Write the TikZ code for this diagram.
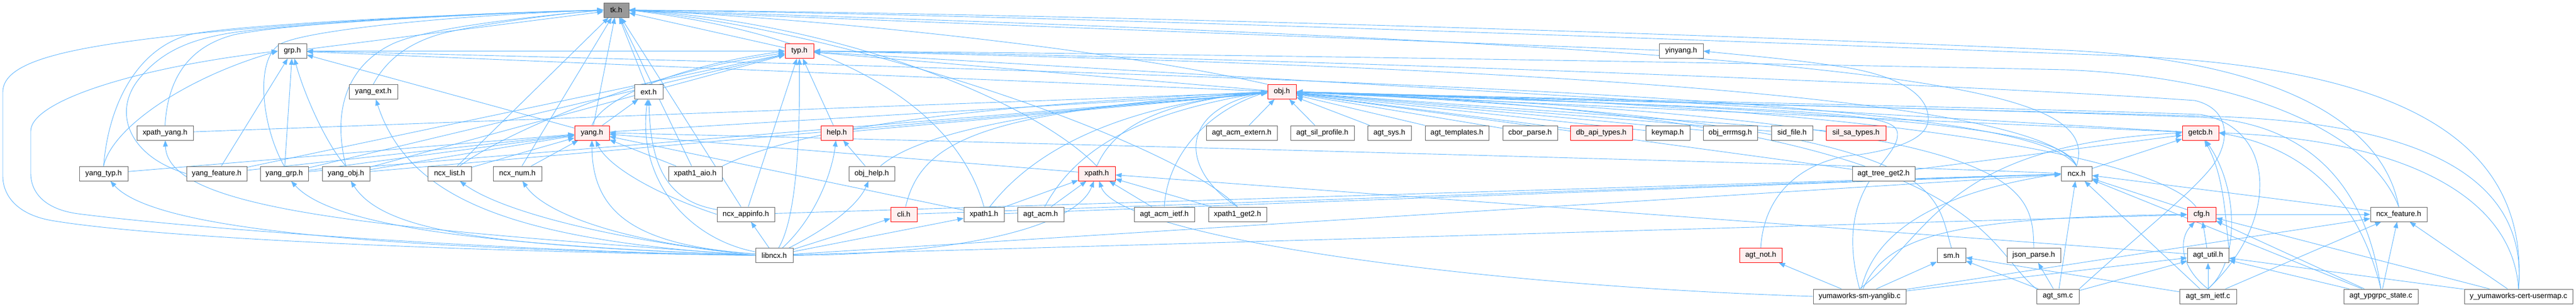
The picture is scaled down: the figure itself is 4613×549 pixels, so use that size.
\documentclass[tikz,border=0pt]{standalone}
\usepackage{fontspec}
\setmainfont{Liberation Sans}
\usetikzlibrary{arrows.meta}
\definecolor{edgec}{HTML}{63B8FF}
\definecolor{bordc}{HTML}{666666}
\definecolor{redfill}{HTML}{FFF0F0}
\definecolor{tkfill}{HTML}{999999}
\pgfdeclarelayer{bg}
\pgfdeclarelayer{canvas}
\pgfsetlayers{canvas,bg,main}
\begin{document}
\begin{tikzpicture}[x=1pt,y=-1pt,
  box/.style={draw=bordc,line width=1pt,fill=white,minimum height=26pt,inner xsep=0pt,inner ysep=0pt,font=\fontsize{13.3pt}{16pt}\selectfont,text=black},
  redbox/.style={box,draw=red,fill=redfill},
  tkbox/.style={box,fill=tkfill},
  e/.style={draw=edgec,line width=0.9pt,-{Triangle[length=11pt,width=8.5pt]}}]
\useasboundingbox (0,0) rectangle (4613,549);
\begin{pgfonlayer}{canvas}
\fill[white] (0,0) rectangle (4613,549);
\end{pgfonlayer}
% row 0
\node[tkbox,minimum width=45pt] (tk) at (1103.5,18) {tk.h};
% row 1
\node[box,minimum width=51pt] (grp) at (523.5,91.5) {grp.h};
\node[redbox,minimum width=51pt] (typ) at (1431.5,91.5) {typ.h};
\node[box,minimum width=79pt] (yinyang) at (3010.5,91.5) {yinyang.h};
% row 2
\node[box,minimum width=87pt] (yangext) at (668.5,164.5) {yang\_ext.h};
\node[box,minimum width=51pt] (ext) at (1161.5,164.5) {ext.h};
\node[redbox,minimum width=51pt] (obj) at (2295.5,164.5) {obj.h};
% row 3
\node[box,minimum width=101pt] (xpathyang) at (295.5,238) {xpath\_yang.h};
\node[redbox,minimum width=62pt] (yang) at (1060,238) {yang.h};
\node[redbox,minimum width=57pt] (help) at (1498.5,238) {help.h};
\node[box,minimum width=127pt] (acmext) at (2223.5,238) {agt\_acm\_extern.h};
\node[box,minimum width=114pt] (silprof) at (2368,238) {agt\_sil\_profile.h};
\node[box,minimum width=78pt] (agtsys) at (2488,238) {agt\_sys.h};
\node[box,minimum width=114pt] (agttempl) at (2609,238) {agt\_templates.h};
\node[box,minimum width=98pt] (cbor) at (2740,238) {cbor\_parse.h};
\node[redbox,minimum width=111pt] (dbapi) at (2867.5,238) {db\_api\_types.h};
\node[box,minimum width=79pt] (keymap) at (2986.5,238) {keymap.h};
\node[box,minimum width=97pt] (objerr) at (3098.5,238) {obj\_errmsg.h};
\node[box,minimum width=74pt] (sidfile) at (3209,238) {sid\_file.h};
\node[redbox,minimum width=107pt] (silsa) at (3323.5,238) {sil\_sa\_types.h};
\node[redbox,minimum width=65pt] (getcb) at (3940.5,238) {getcb.h};
% row 4
\node[box,minimum width=87pt] (yangtyp) at (185.5,311) {yang\_typ.h};
\node[box,minimum width=108pt] (yangfeat) at (388,311) {yang\_feature.h};
\node[box,minimum width=86pt] (yanggrp) at (509,311) {yang\_grp.h};
\node[box,minimum width=85pt] (yangobj) at (619.5,311) {yang\_obj.h};
\node[box,minimum width=78pt] (ncxlist) at (805,311) {ncx\_list.h};
\node[box,minimum width=87pt] (ncxnum) at (926.5,311) {ncx\_num.h};
\node[box,minimum width=96pt] (aio) at (1245,311) {xpath1\_aio.h};
\node[box,minimum width=82pt] (objhelp) at (1561,311) {obj\_help.h};
\node[redbox,minimum width=66pt] (xpath) at (1964,311) {xpath.h};
\node[box,minimum width=112pt] (treeget) at (3373,311) {agt\_tree\_get2.h};
\node[box,minimum width=55pt] (ncx) at (3718.5,311) {ncx.h};
% row 5
\node[box,minimum width=103pt] (appinfo) at (1335.5,384) {ncx\_appinfo.h};
\node[redbox,minimum width=47pt] (cli) at (1618.5,384) {cli.h};
\node[box,minimum width=72pt] (xpath1) at (1762,384) {xpath1.h};
\node[box,minimum width=83pt] (acm) at (1863.5,384) {agt\_acm.h};
\node[box,minimum width=108pt] (acmietf) at (2085,384) {agt\_acm\_ietf.h};
\node[box,minimum width=104pt] (get2) at (2216,384) {xpath1\_get2.h};
\node[redbox,minimum width=51pt] (cfg) at (3942.5,384) {cfg.h};
\node[box,minimum width=101pt] (ncxfeat) at (4295.5,384) {ncx\_feature.h};
% row 6
\node[box,minimum width=67pt] (libncx) at (1386.5,457.5) {libncx.h};
\node[redbox,minimum width=76pt] (agtnot) at (3153,457.5) {agt\_not.h};
\node[box,minimum width=51pt] (sm) at (3494.5,457.5) {sm.h};
\node[box,minimum width=96pt] (json) at (3642,457.5) {json\_parse.h};
\node[box,minimum width=74pt] (agtutil) at (3954,457.5) {agt\_util.h};
% row 7
\node[box,minimum width=166pt] (yanglib) at (3330,531) {yumaworks-sm-yanglib.c};
\node[box,minimum width=76pt] (agtsm) at (3685,531) {agt\_sm.c};
\node[box,minimum width=102pt] (smietf) at (3954,531) {agt\_sm\_ietf.c};
\node[box,minimum width=133pt] (ypgrpc) at (4263.5,531) {agt\_ypgrpc\_state.c};
\node[box,minimum width=194pt] (usermap) at (4510,531) {y\_yumaworks-cert-usermap.c};

\begin{pgfonlayer}{bg}
% ---- into tk.h
\draw[e] (grp) -- (tk);
\draw[e] (typ) -- (tk);
\draw[e] (ext) -- (tk);
\draw[e] (yang) -- (tk);
\draw[e] (ncxlist) -- (tk);
\draw[e] (ncxnum) -- (tk);
\draw[e] (aio) -- (tk);
\draw[e] (appinfo) -- (tk);
\draw[e] (yinyang) -- (tk);
\draw[e] (yangext.north) .. controls (690,110) and (730,75) .. (800,58) .. controls (880,40) and (1000,25) .. (tk.west);
\draw[e] (yangobj.north) .. controls (595,200) and (620,120) .. (700,80) .. controls (760,50) and (950,30) .. (tk.west);
\draw[e] (yanggrp.north) .. controls (470,230) and (455,110) .. (500,80) .. controls (540,55) and (800,28) .. (tk.west);
\draw[e] (xpathyang.north) .. controls (300,150) and (330,85) .. (420,62) .. controls (520,42) and (800,26) .. (tk.west);
\draw[e] (yangfeat.west) .. controls (230,280) and (200,200) .. (250,140) .. controls (290,92) and (340,70) .. (420,58) .. controls (500,46) and (800,26) .. (tk.west);
\draw[e] (yangtyp.north) .. controls (195,180) and (250,85) .. (340,62) .. controls (403,46) and (800,25) .. (tk.west);
\draw[e] (libncx.west) .. controls (900,452) and (300,430) .. (92,395) .. controls (30,384) and (5,350) .. (5,315) -- (5,165) .. controls (5,110) and (120,85) .. (330,62) .. controls (600,35) and (900,22) .. (tk.west);
\draw[e] (obj.north west) .. controls (2000,90) and (1500,35) .. (tk.east);
\draw[e] (xpath.north) .. controls (1850,180) and (1500,40) .. (tk.east);
\draw[e] (get2.north) .. controls (2100,250) and (1500,50) .. (tk.east);
\draw[e] (xpath1.north) .. controls (1720,220) and (1550,70) .. (tk.east);
\draw[e] (ncx.north) .. controls (3760,160) and (3500,90) .. (tk.east);
\draw[e] (ncxfeat.north) .. controls (4270,230) and (4100,110) .. (3700,90) .. controls (3000,58) and (1800,22) .. (tk.east);
\draw[e] (usermap.north) .. controls (4530,250) and (4300,120) .. (3800,100) .. controls (3000,70) and (1800,25) .. (tk.east);
% ---- into grp.h
\draw[e] (libncx.west) .. controls (900,450) and (350,410) .. (140,383) .. controls (80,375) and (55,345) .. (55,310) -- (55,235) .. controls (55,180) and (250,120) .. (grp.west);
\draw[e] (yangtyp.north) .. controls (200,230) and (330,140) .. (grp.west);
\draw[e] (yangfeat) -- (grp);
\draw[e] (yanggrp) -- (grp);
\draw[e] (yangobj.north) .. controls (585,260) and (545,170) .. (grp);
\draw[e] (yang) -- (grp);
\draw[e] (obj) -- (grp);
\draw[e] (ncx.north) .. controls (3650,200) and (3000,150) .. (grp.east);
% ---- into typ.h
\draw[e] (grp) -- (typ);
\draw[e] (obj) -- (typ);
\draw[e] (help) -- (typ);
\draw[e] (appinfo) -- (typ);
\draw[e] (libncx) .. controls (1432,380) and (1432,200) .. (typ);
\draw[e] (yang.north) .. controls (1075,180) and (1200,120) .. (typ.west);
\draw[e] (yangfeat) -- (typ);
\draw[e] (yanggrp) -- (typ);
\draw[e] (yangobj) -- (typ);
\draw[e] (ncxlist) .. controls (900,240) and (1150,130) .. (typ);
\draw[e] (getcb) -- (typ);
\draw[e] (ncx.north) .. controls (3680,220) and (3300,130) .. (typ.east);
\draw[e] (ncxfeat.north) .. controls (4250,250) and (4050,140) .. (3700,125) .. controls (3000,110) and (2000,95) .. (typ.east);
\draw[e] (agtsm.north east) .. controls (3830,420) and (3920,350) .. (3960,300) .. controls (3995,255) and (3995,195) .. (3930,180) .. controls (3500,150) and (2200,100) .. (typ.east);
% ---- into ext.h
\draw[e] (yang) -- (ext);
\draw[e] (libncx) .. controls (1240,430) and (1140,330) .. (ext);
\draw[e] (appinfo) .. controls (1190,360) and (1165,290) .. (ext);
% ---- into yang.h
\draw[e] (yangtyp) -- (yang);
\draw[e] (yangfeat) -- (yang);
\draw[e] (yanggrp) -- (yang);
\draw[e] (yangobj) -- (yang);
\draw[e] (ncxlist) -- (yang);
\draw[e] (ncxnum) -- (yang);
\draw[e] (aio) -- (yang);
\draw[e] (xpath) -- (yang);
\draw[e] (xpath1) -- (yang);
\draw[e] (libncx) .. controls (1150,440) and (1060,390) .. (yang);
\draw[e] (appinfo.west) .. controls (1180,350) and (1090,300) .. (yang);
\draw[e] (ncx.west) .. controls (3500,300) and (2000,260) .. (yang.east);
% ---- into obj.h (left)
\draw[e] (yang) -- (obj);
\draw[e] (xpathyang) -- (obj);
\draw[e] (help) -- (obj);
\draw[e] (yanggrp) -- (obj);
\draw[e] (yangobj) -- (obj);
\draw[e] (aio.north east) .. controls (1420,235) and (1700,190) .. (obj.west);
\draw[e] (objhelp) .. controls (1620,260) and (1750,200) .. (obj.west);
\draw[e] (cli) .. controls (1650,250) and (1760,200) .. (obj.west);
\draw[e] (xpath.north) .. controls (1990,240) and (2050,185) .. (obj.west);
\draw[e] (xpath1) .. controls (1850,270) and (2000,190) .. (obj.west);
\draw[e] (acm) .. controls (1930,260) and (2050,200) .. (obj.west);
\draw[e] (acmietf.north) .. controls (2090,280) and (2160,200) .. (obj.west);
\draw[e] (get2.north) .. controls (2120,310) and (2100,200) .. (obj.west);
% ---- into obj.h (below / right)
\draw[e] (acmext) -- (obj);
\draw[e] (silprof) -- (obj);
\draw[e] (agtsys) -- (obj);
\draw[e] (agttempl) -- (obj);
\draw[e] (cbor) -- (obj);
\draw[e] (dbapi) -- (obj);
\draw[e] (keymap) -- (obj);
\draw[e] (objerr) -- (obj);
\draw[e] (sidfile) -- (obj);
\draw[e] (silsa) -- (obj);
\draw[e] (getcb) -- (obj);
\draw[e] (treeget) -- (obj);
\draw[e] (ncx.north) .. controls (3700,240) and (3500,200) .. (obj.east);
\draw[e] (cfg) .. controls (3880,300) and (3500,190) .. (obj.east);
\draw[e] (sm.north) .. controls (3460,330) and (3500,220) .. (obj.east);
\draw[e] (json.north) .. controls (3640,320) and (3620,215) .. (obj.east);
\draw[e] (agtsm.north west) .. controls (3540,430) and (3560,210) .. (obj.east);
\draw[e] (yanglib.north) .. controls (3280,330) and (3400,290) .. (3398,240) .. controls (3396,200) and (3300,200) .. (obj.east);
\draw[e] (smietf.north) .. controls (4080,400) and (4080,230) .. (3940,205) .. controls (3500,190) and (2700,175) .. (obj.east);
\draw[e] (ypgrpc.north) .. controls (4240,350) and (4150,220) .. (3940,210) .. controls (3500,195) and (2700,175) .. (obj.east);
\draw[e] (usermap.north) .. controls (4530,300) and (4300,215) .. (3940,208) .. controls (3500,195) and (2700,178) .. (obj.east);
% ---- libncx.h includes
\draw[e] (libncx.west) .. controls (700,445) and (280,415) .. (yangtyp);
\draw[e] (libncx.west) .. controls (700,410) and (300,380) .. (xpathyang);
\draw[e] (libncx.west) .. controls (900,440) and (600,410) .. (yanggrp);
\draw[e] (libncx.west) .. controls (900,440) and (690,420) .. (yangobj);
\draw[e] (libncx.west) .. controls (900,430) and (730,350) .. (yangext);
\draw[e] (libncx.west) .. controls (1100,430) and (900,380) .. (ncxlist);
\draw[e] (libncx) .. controls (1150,440) and (980,390) .. (ncxnum);
\draw[e] (libncx) -- (appinfo);
\draw[e] (libncx) .. controls (1460,390) and (1490,310) .. (help);
\draw[e] (libncx) .. controls (1500,400) and (1540,360) .. (objhelp);
\draw[e] (libncx) -- (cli);
\draw[e] (libncx) -- (xpath1);
\draw[e] (libncx.east) .. controls (1750,455) and (1930,400) .. (xpath);
\draw[e] (libncx) -- (ncx);
\draw[e] (libncx) -- (cfg);
% ---- misc
\draw[e] (objhelp) -- (help);
\draw[e] (xpath1) -- (xpath);
\draw[e] (acm) -- (xpath);
\draw[e] (acmietf) -- (xpath);
\draw[e] (get2) -- (xpath);
\draw[e] (agtutil) -- (xpath);
\draw[e] (yanglib.west) .. controls (2600,510) and (2000,420) .. (xpath);
\draw[e] (xpath1) -- (ncx);
\draw[e] (appinfo) -- (ncx);
\draw[e] (cli) -- (ncx);
\draw[e] (treeget) -- (getcb);
\draw[e] (ncx) -- (getcb);
\draw[e] (cfg) -- (ncx);
\draw[e] (ncxfeat) -- (ncx);
\draw[e] (cfg) -- (ncxfeat);
\draw[e] (agtnot.north) .. controls (3160,330) and (3250,282) .. (3330,277) .. controls (3430,262) and (3455,235) .. (3453,210) .. controls (3450,160) and (3380,130) .. (3280,117) .. controls (3200,105) and (3100,97) .. (yinyang.east);
% ---- bottom rows
\draw[e] (agtutil) -- (cfg);
\draw[e] (agtutil.north east) .. controls (3985,400) and (3985,320) .. (getcb);
\draw[e] (yanglib) -- (agtnot);
\draw[e] (yanglib) -- (sm);
\draw[e] (yanglib) -- (agtutil);
\draw[e] (yanglib) .. controls (3380,420) and (3500,390) .. (cfg.west);
\draw[e] (yanglib) .. controls (3360,400) and (3500,340) .. (ncx.west);
\draw[e] (yanglib.north) .. controls (3460,420) and (3480,260) .. (getcb.west);
\draw[e] (yanglib) -- (ncxfeat);
\draw[e] (agtsm) -- (sm);
\draw[e] (agtsm) -- (json);
\draw[e] (agtsm) -- (ncx);
\draw[e] (agtsm) -- (agtutil);
\draw[e] (smietf) -- (agtutil);
\draw[e] (smietf) -- (sm);
\draw[e] (smietf.north) .. controls (3905,480) and (3900,430) .. (cfg);
\draw[e] (smietf) -- (ncx);
\draw[e] (smietf) -- (ncxfeat);
\draw[e] (smietf.north) .. controls (4010,470) and (4010,340) .. (getcb);
\draw[e] (ypgrpc) -- (agtutil);
\draw[e] (ypgrpc) -- (cfg);
\draw[e] (ypgrpc) -- (ncxfeat);
\draw[e] (ypgrpc) -- (ncx);
\draw[e] (ypgrpc.north) .. controls (4230,380) and (4150,270) .. (getcb.east);
\draw[e] (usermap) -- (agtutil);
\draw[e] (usermap) -- (cfg);
\draw[e] (usermap) -- (ncxfeat);
\draw[e] (usermap.north) .. controls (4500,350) and (4300,250) .. (getcb.east);
\end{pgfonlayer}
\end{tikzpicture}
\end{document}
